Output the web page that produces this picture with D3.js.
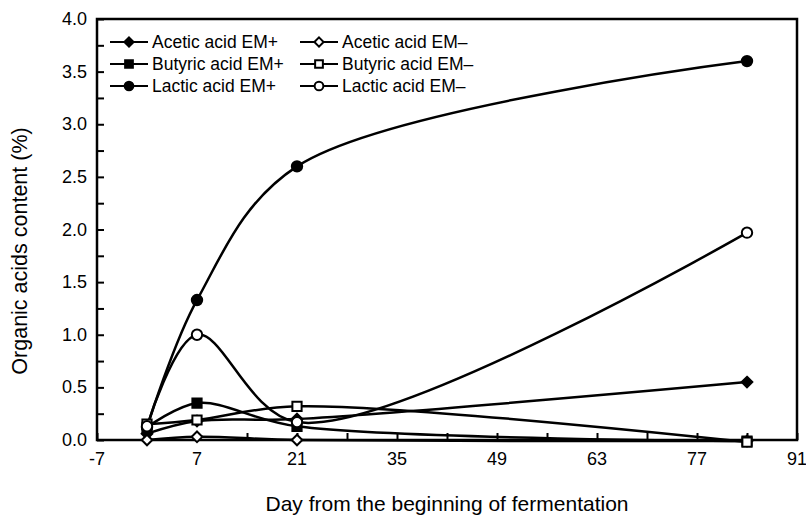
<!DOCTYPE html>
<html>
<head>
<meta charset="utf-8">
<script src="https://cdn.jsdelivr.net/npm/d3@7"></script>
<style>
  body { margin: 0; background: #fff; }
  text { font-family: "Liberation Sans", Arial, sans-serif; fill: #000; }
</style>
</head>
<body>
<script>
var width = 806, height = 525;
var margin = {top: 19, right: 9, bottom: 85, left: 97};

// days of sampling
var days = [0, 7, 21, 84];
// organic acid content (%)
var aceticPlus  = [0.06, 0.18, 0.20, 0.55];
var aceticMinus = [0.00, 0.03, 0.00, -0.01];
var butyricPlus  = [0.12, 0.35, 0.13, -0.01];
var butyricMinus = [0.15, 0.19, 0.32, -0.02];
var lacticPlus  = [0.12, 1.33, 2.60, 3.60];
var lacticMinus = [0.13, 1.00, 0.17, 1.97];

var xTicks = [-7, 7, 21, 35, 49, 63, 77, 91];
var yTicks = [0, 0.5, 1, 1.5, 2, 2.5, 3, 3.5, 4];

var series = [
  {name: "Acetic acid EM+",  values: aceticPlus,   shape: "diamond", filled: true},
  {name: "Acetic acid EM\u2013",  values: aceticMinus,  shape: "diamond", filled: false},
  {name: "Butyric acid EM+", values: butyricPlus,  shape: "square",  filled: true},
  {name: "Butyric acid EM\u2013", values: butyricMinus, shape: "square",  filled: false},
  {name: "Lactic acid EM+",  values: lacticPlus,   shape: "circle",  filled: true},
  {name: "Lactic acid EM\u2013",  values: lacticMinus,  shape: "circle",  filled: false}
];

var svg = d3.select("body").append("svg")
    .attr("width", width)
    .attr("height", height);

var x = d3.scaleLinear().domain([-7, 91]).range([margin.left, width - margin.right]);
var y = d3.scaleLinear().domain([0, 4]).range([height - margin.bottom, margin.top]);

// frame
svg.append("rect")
    .attr("x", x(-7)).attr("y", y(4))
    .attr("width", x(91) - x(-7)).attr("height", y(0) - y(4))
    .attr("fill", "none").attr("stroke", "#000").attr("stroke-width", 2.5);

// inward ticks
var xAxis = svg.append("g")
    .attr("transform", "translate(0," + y(0) + ")")
    .call(d3.axisBottom(x).tickValues(d3.range(-7, 92, 7)).tickSizeInner(-7).tickSizeOuter(0).tickFormat(""));
xAxis.select(".domain").remove();
xAxis.selectAll("line").attr("stroke-width", 2);

var yAxis = svg.append("g")
    .attr("transform", "translate(" + x(-7) + ",0)")
    .call(d3.axisLeft(y).tickValues(d3.range(0, 4.01, 0.25)).tickSizeInner(-7).tickSizeOuter(0).tickFormat(""));
yAxis.select(".domain").remove();
yAxis.selectAll("line").attr("stroke-width", 2);

// tick labels
svg.selectAll(".xlab").data(xTicks).enter().append("text")
    .attr("x", function(d) { return x(d); })
    .attr("y", y(0) + 25)
    .attr("text-anchor", "middle")
    .attr("font-size", 18)
    .text(function(d) { return d; });

svg.selectAll(".ylab").data(yTicks).enter().append("text")
    .attr("x", x(-7) - 10)
    .attr("y", function(d) { return y(d) + 6; })
    .attr("text-anchor", "end")
    .attr("font-size", 18)
    .text(function(d) { return d.toFixed(1); });

svg.append("text")
    .attr("x", (x(-7) + x(91)) / 2)
    .attr("y", 511)
    .attr("text-anchor", "middle")
    .attr("font-size", 21)
    .text("Day from the beginning of fermentation");

svg.append("text")
    .attr("transform", "translate(27,251) rotate(-90)")
    .attr("text-anchor", "middle")
    .attr("font-size", 21.5)
    .text("Organic acids content (%)");

// lines
var line = d3.line()
    .x(function(d) { return x(d[0]); })
    .y(function(d) { return y(d[1]); })
    .curve(d3.curveCatmullRom.alpha(0.5));

function marker(g, s, size) {
  var sym;
  if (s.shape == "diamond") sym = d3.symbol().type(d3.symbolDiamond2).size(size * 0.9);
  else if (s.shape == "square") sym = d3.symbol().type(d3.symbolSquare).size(size);
  else sym = d3.symbol().type(d3.symbolCircle).size(size);
  return g.append("path")
      .attr("d", sym())
      .attr("fill", s.filled ? "#000" : "#fff")
      .attr("stroke", "#000")
      .attr("stroke-width", 2);
}

series.forEach(function(s) {
  var pts = days.map(function(d, i) { return [d, s.values[i]]; });
  svg.append("path")
      .datum(pts)
      .attr("d", line)
      .attr("fill", "none")
      .attr("stroke", "#000")
      .attr("stroke-width", 2.5);
});

series.forEach(function(s) {
  days.forEach(function(d, i) {
    var g = svg.append("g").attr("transform", "translate(" + x(d) + "," + y(s.values[i]) + ")");
    marker(g, s, s.shape == "diamond" ? 80 : 85);
  });
});

// legend
var legend = svg.append("g");
series.forEach(function(s, i) {
  var col = i % 2, row = Math.floor(i / 2);
  var lx = 110 + col * 190, ly = 42 + row * 22;
  var g = legend.append("g").attr("transform", "translate(" + lx + "," + ly + ")");
  g.append("line").attr("x1", 0).attr("x2", 38).attr("y1", 0).attr("y2", 0)
      .attr("stroke", "#000").attr("stroke-width", 2);
  marker(g.append("g").attr("transform", "translate(19,0)"), s, 60);
  g.append("text").attr("x", 42).attr("y", 6).attr("font-size", 17.5).text(s.name);
});
</script>
</body>
</html>
